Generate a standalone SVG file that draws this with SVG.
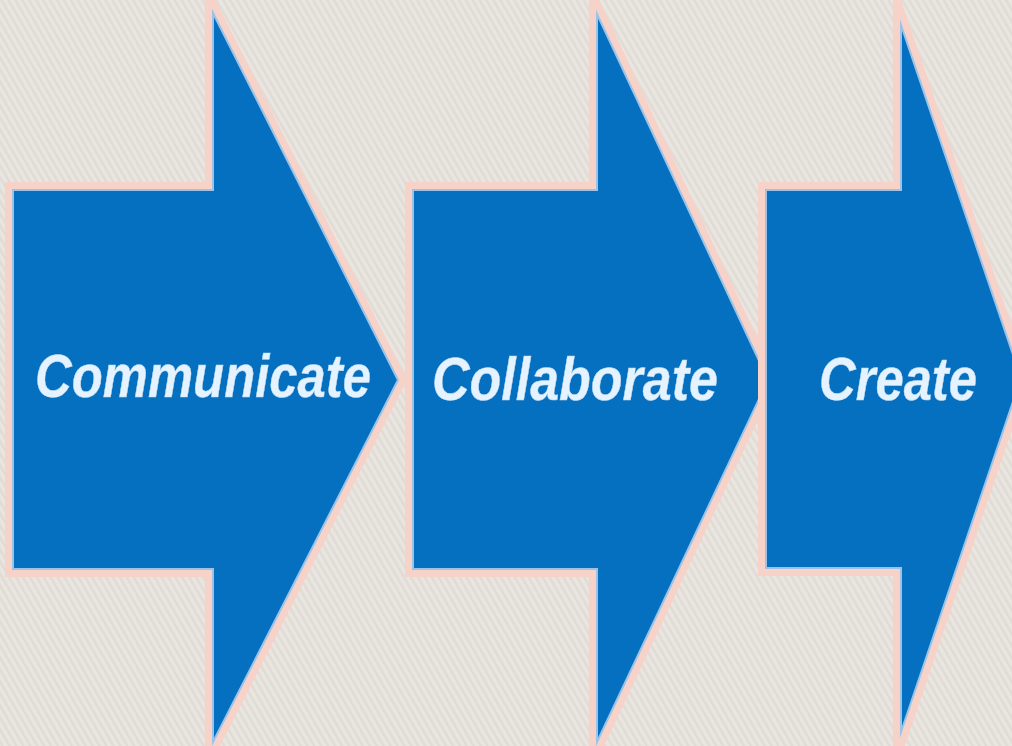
<svg xmlns="http://www.w3.org/2000/svg" width="1012" height="746" viewBox="0 0 1012 746">
  <defs>
    <pattern id="hatch" width="6" height="6" patternUnits="userSpaceOnUse" patternTransform="rotate(-30)">
      <rect width="6" height="6" fill="#e9e5e0"/>
      <rect width="2.5" height="6" fill="#e0dcd5"/>
    </pattern>
  </defs>
  <style>
    .glow { fill: none; stroke: #f6d2c8; stroke-width: 16; stroke-linejoin: miter; stroke-miterlimit: 10; }
    .body { fill: #0670c0; stroke: #9cc3e6; stroke-width: 2; stroke-linejoin: miter; stroke-miterlimit: 10; }
    .label { font-family: "Liberation Sans", Arial, sans-serif; font-weight: bold; font-style: italic; font-size: 61px; fill: #e4f3ff; stroke: #bcd9f2; stroke-width: 0.5; }
  </style>
  <rect width="1012" height="746" fill="url(#hatch)"/>
  <g id="arrow-communicate">
    <polygon class="glow" points="13,190 213,190 213,13 398,380 213,742 213,569 13,569"/>
    <polygon class="body" points="13,190 213,190 213,13 398,380 213,742 213,569 13,569"/>
    <text class="label" x="35" y="397" textLength="336" lengthAdjust="spacingAndGlyphs">Communicate</text>
  </g>
  <g id="arrow-collaborate">
    <polygon class="glow" points="413,190 597,190 597,14 768,380 597,742 597,569 413,569"/>
    <polygon class="body" points="413,190 597,190 597,14 768,380 597,742 597,569 413,569"/>
    <text class="label" x="432" y="400" textLength="286" lengthAdjust="spacingAndGlyphs">Collaborate</text>
  </g>
  <g id="arrow-create">
    <polygon class="glow" points="766,190 901,190 901,25 1021,378 901,732 901,568 766,568"/>
    <polygon class="body" points="766,190 901,190 901,25 1021,378 901,732 901,568 766,568"/>
    <text class="label" x="819" y="400" textLength="158" lengthAdjust="spacingAndGlyphs">Create</text>
  </g>
  <g id="connectors"/>
</svg>
